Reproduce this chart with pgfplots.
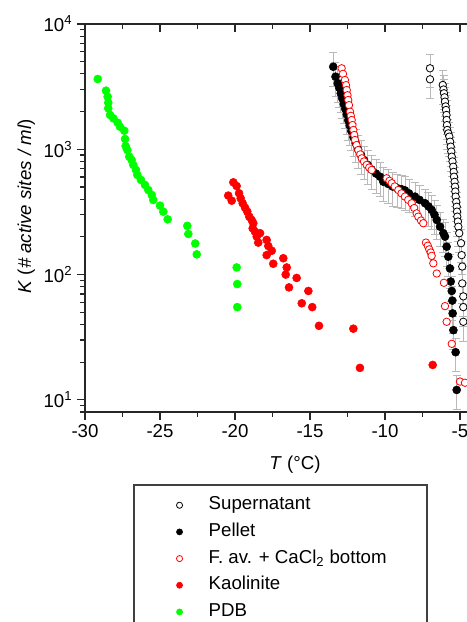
\documentclass[border=0pt]{standalone}
\usepackage{pgfplots}
\pgfplotsset{compat=1.18}
\usepackage{fontspec}
\setmainfont{Liberation Sans}

% legend image: marker with room on both sides
\pgfplotsset{lg/.style={legend image code/.code={\path (-20.75pt,0pt) (17pt,0pt); \draw[##1,mark size=2.3pt] plot coordinates {(0pt,0pt)};}}}
\pgfplotsset{ebar/.style={error bars/.cd, y dir=both, y fixed relative=0.3,
  error bar style={gray!55, line width=0.4pt},
  error mark options={rotate=90, gray!55, mark size=3pt, line width=0.4pt}}}

\begin{document}
\begin{tikzpicture}[font=\fontsize{14}{16.8}\selectfont]
% the reference is a crop: right end of the axis and bottom of the legend are cut off
\useasboundingbox (-63.75pt,-157.5pt) rectangle (286.5pt,309pt);
% top axis ticks (pointing in)
\begin{axis}[at={(0,0)}, anchor=south west,
  scale only axis, width=315pt, height=291pt,
  xmin=-30, xmax=-2, ymin=8, ymax=10000,
  axis x line*=top, axis y line=none,
  axis line style={black!85, line width=0.9pt},
  tick style={black!85, line width=0.9pt},
  xtick align=inside, major tick length=6pt, minor tick length=3.5pt,
  xtick={-30,-25,-20,-15,-10,-5}, xticklabels={},
  minor xtick={-27.5,-22.5,-17.5,-12.5,-7.5,-2.5}, ytick=\empty]
\end{axis}
\begin{axis}[
  at={(0,0)}, anchor=south west,
  scale only axis, width=315pt, height=291pt,
  xmin=-30, xmax=-2,
  ymode=log, ymin=8, ymax=10000,
  axis line style={black!85, line width=0.9pt},
  tick style={black!85, line width=0.9pt},
  tick align=outside, tick pos=left,
  major tick length=6pt, minor tick length=3.5pt,
  xtick={-30,-25,-20,-15,-10,-5},
  xticklabels={-30,-25,-20,-15,-10,-5},
  minor xtick={-27.5,-22.5,-17.5,-12.5,-7.5,-2.5},
  ytick={10,100,1000,10000},
  yticklabels={10\textsuperscript{1},10\textsuperscript{2},10\textsuperscript{3},10\textsuperscript{4}},
  minor ytick={8,9,20,30,40,50,60,70,80,90,200,300,400,500,600,700,800,900,2000,3000,4000,5000,6000,7000,8000,9000},
  xlabel={\textit{T} (°C)},
  ylabel={\textit{K} (\textit{\# active sites / ml})},
  xlabel style={at={(axis description cs:0.5,0)}, anchor=center, yshift=-39.75pt},
  ylabel style={at={(axis description cs:0,0.53)}, anchor=center, yshift=44pt},
  legend style={at={(axis description cs:0.1167,-0.1881)}, anchor=north west,
    draw=none, fill=none, inner xsep=13pt, inner ysep=5pt,
    column sep=0pt, row sep=0pt,
    nodes={inner xsep=4.7pt, inner ysep=3pt, text height=10.5pt, text depth=3.5pt}},
  legend cell align=left,
]
% Supernatant
\addplot[only marks, mark=*, mark size=2.8pt, black, mark options={fill=white, line width=0.6pt}, lg, ebar] coordinates {
(-7.0,4430) (-7.0,3620) (-6.15,3260) (-6.1,3000) (-6.07,2800) (-6.03,2600) (-6.0,2400)
(-5.96,2200) (-5.93,2060) (-5.9,1880) (-5.89,1714) (-5.87,1560) (-5.85,1426) (-5.78,1340)
(-5.71,1262) (-5.66,1150) (-5.62,1050) (-5.58,960) (-5.55,873) (-5.5,800) (-5.45,726)
(-5.42,660) (-5.4,604) (-5.36,550) (-5.33,503) (-5.31,460) (-5.29,419) (-5.25,380)
(-5.22,348) (-5.2,318) (-5.18,290) (-5.14,265) (-5.11,241) (-5.05,214) (-4.93,178)
(-4.89,143) (-4.85,116) (-4.85,85) (-4.78,67) (-4.78,55) (-4.78,42)
};
\addlegendentry{Supernatant}
% Pellet
\addplot[only marks, mark=*, mark size=3pt, black, lg, ebar] coordinates {
(-13.45,4560) (-13.3,3800) (-13.15,3360) (-13.05,3100) (-12.95,2800) (-12.85,2550)
(-12.75,2300) (-12.65,2100) (-12.55,1900) (-12.45,1700) (-12.35,1550) (-12.25,1400)
(-12.1,1250) (-11.95,1120) (-11.8,1000) (-11.6,900) (-11.4,820) (-11.15,750) (-10.9,690)
(-10.6,640) (-10.33,604) (-10.11,551) (-9.8,530) (-9.5,505) (-9.2,490) (-8.9,480)
(-8.67,470) (-8.4,445) (-8.0,419) (-7.7,395) (-7.33,371) (-7.1,350) (-6.89,328)
(-6.7,300) (-6.55,273) (-6.33,241) (-6.11,214) (-6.0,201) (-5.89,167) (-5.78,139)
(-5.67,112) (-5.62,88) (-5.55,74) (-5.51,62) (-5.49,49) (-5.44,36) (-5.29,24) (-5.22,12)
};
\addlegendentry{Pellet}
% F. av. + CaCl2 bottom
\addplot[only marks, mark=*, mark size=2.8pt, red, mark options={fill=white, line width=0.6pt}, lg] coordinates {
(-12.89,4430) (-12.8,4000) (-12.67,3573) (-12.6,3250) (-12.55,2972) (-12.5,2700)
(-12.45,2473) (-12.4,2250) (-12.33,1995) (-12.28,1850) (-12.22,1713) (-12.17,1560)
(-12.11,1426) (-12.05,1300) (-12.0,1186) (-11.9,1080) (-11.78,986) (-11.65,910)
(-11.55,847) (-11.4,800) (-11.22,750) (-11.05,715) (-10.89,684) (-9.89,587) (-9.7,560)
(-9.55,536) (-9.35,505) (-9.11,473) (-8.9,445) (-8.67,419) (-8.45,395) (-8.22,371)
(-8.05,340) (-7.89,308) (-7.78,290) (-7.6,270) (-7.45,257) (-7.27,180) (-7.15,170)
(-7.05,159) (-6.95,150) (-6.89,141) (-6.78,123) (-6.55,102) (-6.07,86) (-6.0,56)
(-5.89,42) (-5.55,28) (-5.0,14) (-4.67,13.7)
};
\addlegendentry{F. av. + CaCl\textsubscript{2}\ bottom}
% Kaolinite
\addplot[only marks, mark=*, mark size=3pt, red, lg] coordinates {
(-20.45,427) (-20.22,389) (-20.11,545) (-19.89,509) (-19.73,446) (-19.62,406)
(-19.49,371) (-19.33,342) (-19.18,318) (-19.05,290) (-18.89,273) (-18.78,257)
(-18.82,234) (-18.67,220) (-18.33,214) (-18.55,201) (-18.45,180) (-17.89,189)
(-17.78,169) (-17.55,155) (-17.89,143) (-17.45,122) (-16.78,135) (-16.55,114)
(-16.62,100) (-15.89,94) (-16.4,79) (-15.11,74) (-15.55,59) (-14.85,55) (-14.4,39)
(-12.11,37) (-11.67,18) (-6.82,19)
};
\addlegendentry{Kaolinite}
% PDB
\addplot[only marks, mark=*, mark size=3pt, green, lg] coordinates {
(-29.15,3640) (-28.6,2937) (-28.49,2630) (-28.45,2355) (-28.45,2124) (-28.33,1879)
(-28.11,1767) (-27.82,1630) (-27.67,1515) (-27.38,1406) (-27.33,1208) (-27.29,1062)
(-27.18,986) (-27.05,873) (-26.89,822) (-26.78,750) (-26.6,684) (-26.51,624)
(-26.27,569) (-26.0,519) (-25.78,473) (-25.55,432) (-25.45,394) (-25.0,355)
(-24.78,318) (-24.49,276) (-23.18,245) (-23.11,211) (-22.65,177) (-22.55,145)
(-19.89,114) (-19.85,84) (-19.85,55)
};
\addlegendentry{PDB}
\end{axis}
% legend frame (its lower edge lies below the crop, as in the reference)
\draw[black!75, line width=0.8pt] (36.75pt,-54.75pt) rectangle (256.5pt,-170pt);
\end{tikzpicture}
\end{document}
